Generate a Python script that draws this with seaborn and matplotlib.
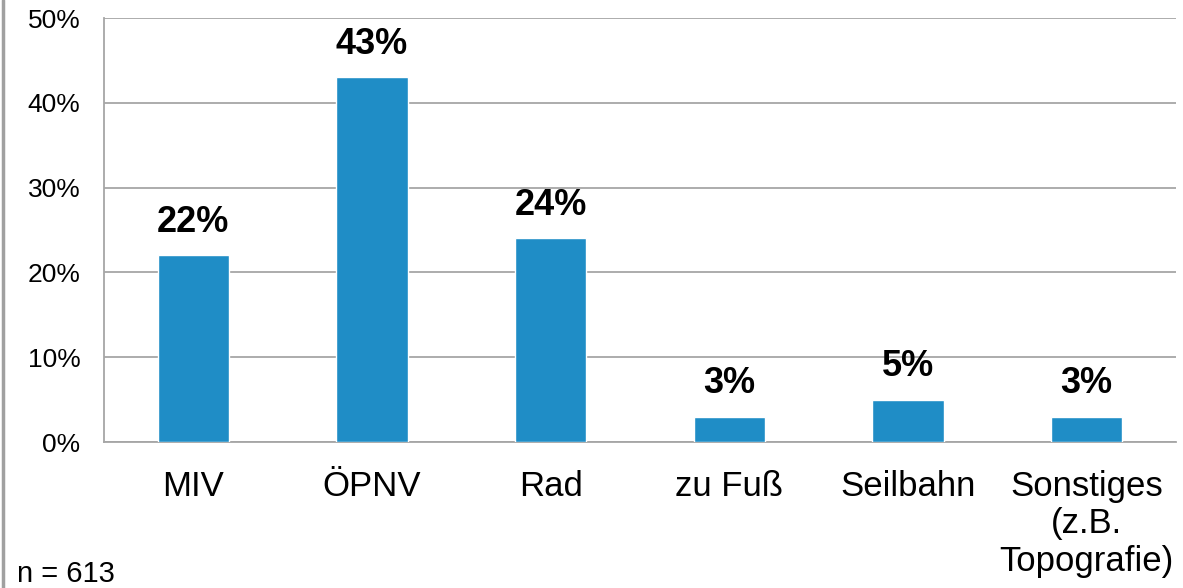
import matplotlib
matplotlib.use("Agg")
import matplotlib.pyplot as plt
from matplotlib.lines import Line2D
from matplotlib.ticker import MultipleLocator, FuncFormatter
import seaborn as sns
import pandas as pd

categories = ["MIV", "ÖPNV", "Rad", "zu Fuß", "Seilbahn", "Sonstiges\n(z.B.\nTopografie)"]
shares = [22, 43, 24, 3, 5, 3]
sample_note = "n = 613"

sns.set_theme(style="white")
plt.rcParams["font.family"] = ["Liberation Sans", "DejaVu Sans"]

df = pd.DataFrame({"Kategorie": categories, "Anteil": shares})

fig = plt.figure(figsize=(11.83, 5.88), dpi=100)
ax = fig.add_axes([104 / 1183, 1 - 442 / 588, (1176 - 104) / 1183, (442 - 18) / 588])

sns.barplot(data=df, x="Kategorie", y="Anteil", color="#1f8dc6", saturation=1,
            width=0.4, ax=ax, zorder=3)

ax.set_xlim(-0.5, len(categories) - 0.5)
ax.set_ylim(0, 50)
ax.yaxis.set_major_locator(MultipleLocator(10))
ax.yaxis.set_major_formatter(FuncFormatter(lambda v, _: f"{v:.0f}%"))
ax.grid(axis="y", color="#a6a6a6", linewidth=1.3, zorder=0)
ax.set_xlabel("")
ax.set_ylabel("")

for side in ("top", "right"):
    ax.spines[side].set_visible(False)
for side in ("left", "bottom"):
    ax.spines[side].set_color("#a6a6a6")
    ax.spines[side].set_linewidth(1.3)

ax.tick_params(axis="y", length=0, pad=17, labelsize=19, colors="#000000")
ax.tick_params(axis="x", length=0, pad=20, labelsize=25, colors="#000000")
for lab in ax.get_xticklabels():
    lab.set_linespacing(1.18)
    lab.set_verticalalignment("top")

for i, v in enumerate(shares):
    ax.annotate(f"{v}%", (i, v), xytext=(0, 11), textcoords="offset points",
                ha="center", va="bottom", fontsize=26, fontweight="bold", color="#000000")

fig.text(17 / 1183, 1 - 582 / 588, sample_note, fontsize=21, ha="left", va="baseline", color="#000000")

fig.add_artist(Line2D([2.5 / 1183, 2.5 / 1183], [0, 1], transform=fig.transFigure,
                      color="#a0a0a0", linewidth=2.5))

fig.savefig("out.png", dpi=100)
